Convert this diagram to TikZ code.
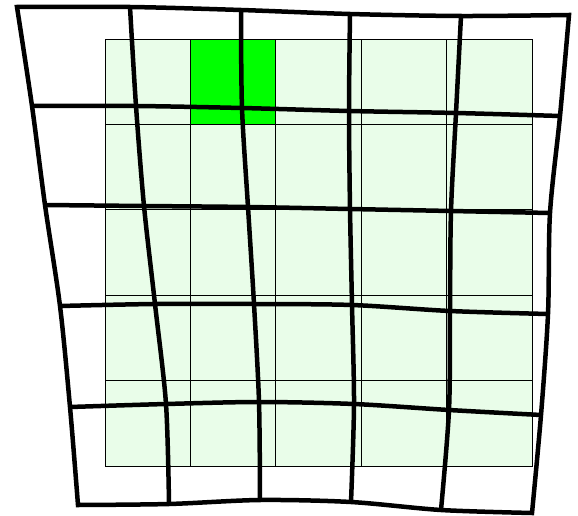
\documentclass[tikz,border=0pt]{standalone}
\usepackage{tikz}
\definecolor{paleCell}{RGB}{233,253,233}
\definecolor{hotCell}{RGB}{0,255,0}

\begin{document}
\begin{tikzpicture}[x=1pt,y=-1pt,
    cell/.style={draw=black, fill=paleCell, line width=0.8pt},
    warp/.style={draw=black, line width=4.5pt}]
    \useasboundingbox (0,0) rectangle (578,516);

    % Straight grid
    \foreach \i in {0,...,4}
      \foreach \j in {0,...,4}
        \draw[cell] (105+85.4*\i,39+85.4*\j) rectangle ++(85.4,85.4);
    \draw[cell, fill=hotCell] (190.4,39) rectangle ++(85.4,85.4);

    % Warped grid points
    \coordinate (p00) at (17,7);
    \coordinate (p10) at (130,7);
    \coordinate (p20) at (241,10);
    \coordinate (p30) at (350,14);
    \coordinate (p40) at (461,16);
    \coordinate (p50) at (569,15);

    \coordinate (p01) at (32,106);
    \coordinate (p11) at (136,106);
    \coordinate (p21) at (242,108);
    \coordinate (p31) at (349,111);
    \coordinate (p41) at (456,113);
    \coordinate (p51) at (560,116);

    \coordinate (p02) at (45,205);
    \coordinate (p12) at (144,206);
    \coordinate (p22) at (248,207);
    \coordinate (p32) at (350,209);
    \coordinate (p42) at (451,211);
    \coordinate (p52) at (550,213);

    \coordinate (p03) at (60,306);
    \coordinate (p13) at (155,304);
    \coordinate (p23) at (254,304);
    \coordinate (p33) at (352,305);
    \coordinate (p43) at (450,311);
    \coordinate (p53) at (548,314);

    \coordinate (p04) at (70,407);
    \coordinate (p14) at (166,404);
    \coordinate (p24) at (259,402);
    \coordinate (p34) at (354,404);
    \coordinate (p44) at (449,410);
    \coordinate (p54) at (541,415);

    \coordinate (p05) at (78,505);
    \coordinate (p15) at (169,504);
    \coordinate (p25) at (260,500);
    \coordinate (p35) at (351,502);
    \coordinate (p45) at (441,510);
    \coordinate (p55) at (532,513);

    % Outer border
    \draw[warp] plot[smooth] coordinates {(p00) (p10) (p20) (p30) (p40) (p50)}
      -- plot[smooth] coordinates {(p50) (p51) (p52) (p53) (p54) (p55)}
      -- plot[smooth] coordinates {(p55) (p45) (p35) (p25) (p15) (p05)}
      -- plot[smooth] coordinates {(p05) (p04) (p03) (p02) (p01) (p00)}
      -- cycle;

    % Inner rows
    \draw[warp] plot[smooth] coordinates {(p01) (p11) (p21) (p31) (p41) (p51)};
    \draw[warp] plot[smooth] coordinates {(p02) (p12) (p22) (p32) (p42) (p52)};
    \draw[warp] plot[smooth] coordinates {(p03) (p13) (p23) (p33) (p43) (p53)};
    \draw[warp] plot[smooth] coordinates {(p04) (p14) (p24) (p34) (p44) (p54)};

    % Inner columns
    \draw[warp] plot[smooth] coordinates {(p10) (p11) (p12) (p13) (p14) (p15)};
    \draw[warp] plot[smooth] coordinates {(p20) (p21) (p22) (p23) (p24) (p25)};
    \draw[warp] plot[smooth] coordinates {(p30) (p31) (p32) (p33) (p34) (p35)};
    \draw[warp] plot[smooth] coordinates {(p40) (p41) (p42) (p43) (p44) (p45)};
\end{tikzpicture}
\end{document}
